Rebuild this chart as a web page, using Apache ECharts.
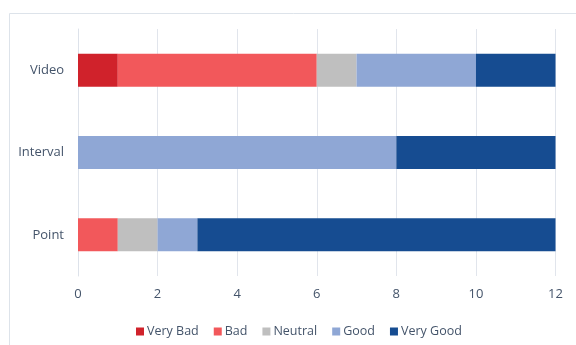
<!DOCTYPE html>
<html>
<head>
<meta charset="utf-8">
<script src="https://cdn.jsdelivr.net/npm/echarts@6/dist/echarts.min.js"></script>
<style>
html,body{margin:0;padding:0;background:#fff;}
#c{width:576px;height:345px;}
</style>
</head>
<body>
<div id="c"></div>
<script>
const categories = ['Point', 'Interval', 'Video'];
const seriesNames = ['Very Bad', 'Bad', 'Neutral', 'Good', 'Very Good'];
const veryBad = [0, 0, 1];
const bad = [1, 0, 5];
const neutral = [1, 0, 1];
const good = [1, 8, 3];
const veryGood = [9, 4, 2];
const xTicks = [0, 2, 4, 6, 8, 10, 12];

const colors = ['#d0222b', '#f2585b', '#bfbfbf', '#8fa7d5', '#164c91'];
const values = [veryBad, bad, neutral, good, veryGood];
const textColor = '#44546a';
const font = 'Open Sans';

const chart = echarts.init(document.getElementById('c'), null, {renderer: 'canvas'});
chart.setOption({
  animation: false,
  color: colors,
  graphic: [{
    type: 'rect', silent: true,
    shape: {x: 9.5, y: 13.5, width: 700, height: 500},
    style: {fill: 'none', stroke: '#dde3ea', lineWidth: 1}
  }],
  grid: {left: 78, right: 20.5, top: 29, bottom: 69},
  legend: {
    data: seriesNames,
    bottom: 2,
    left: 131,
    itemWidth: 8, itemHeight: 8, itemGap: 15,
    icon: 'rect',
    textStyle: {color: textColor, fontSize: 12.5, fontFamily: font, padding: [0, 0, 0, -2]}
  },
  xAxis: {
    type: 'value', min: xTicks[0], max: xTicks[xTicks.length - 1], interval: 2,
    axisLine: {show: false}, axisTick: {show: false},
    splitLine: {lineStyle: {color: '#e1e5ec', width: 1}},
    axisLabel: {color: textColor, fontSize: 13, fontFamily: font, margin: 12}
  },
  yAxis: {
    type: 'category', data: categories,
    axisLine: {lineStyle: {color: '#dde2ea'}}, axisTick: {show: false},
    axisLabel: {color: textColor, fontSize: 13, fontFamily: font, margin: 14}
  },
  series: seriesNames.map((n, i) => ({
    name: n, type: 'bar', stack: 'total', barWidth: 33,
    data: values[i]
  }))
});
</script>
</body>
</html>
